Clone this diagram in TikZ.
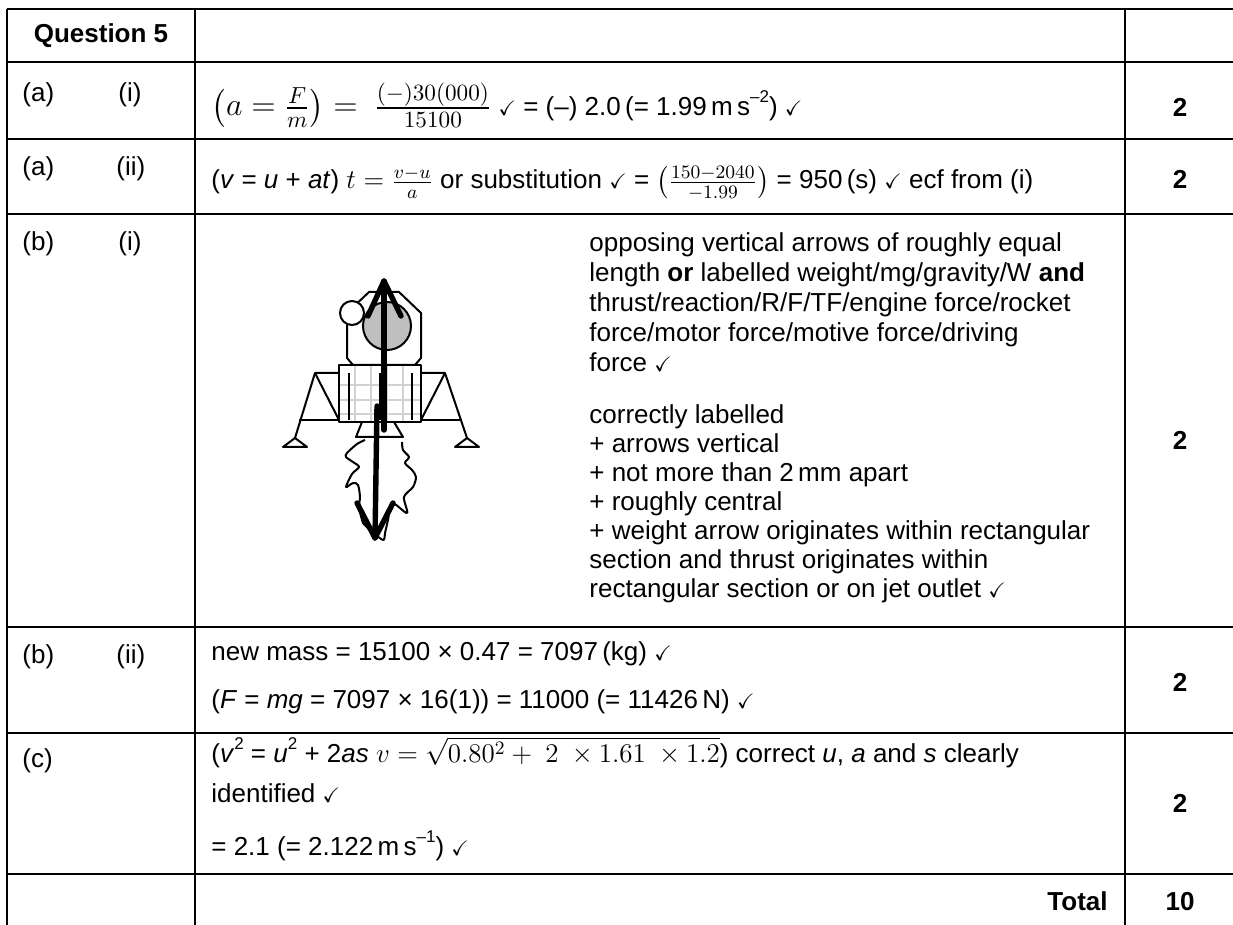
\RequirePackage{fix-cm}
\documentclass[tikz,border=0pt]{standalone}
\usepackage{amsmath,amssymb}
\usepackage{fontspec}
\setmainfont{Liberation Sans}
\DeclareMathSizes{13}{13.5}{9.5}{7.5}
\DeclareMathSizes{14}{16}{11.6}{9}
\newcommand{\chk}{{\fontsize{10.5}{12}\selectfont$\checkmark$}}
\newcommand{\supx}[1]{\raisebox{6.5pt}{\fontsize{8.5}{10}\selectfont #1}}
\newcommand{\bigmath}[1]{{\fontsize{14}{15}\selectfont$#1$}}
\tikzset{
  rule/.style={line width=1pt},
  cell/.style={anchor=base west, inner sep=0pt, font=\fontsize{13}{15}\selectfont},
  pts/.style={anchor=base, inner sep=0pt, font=\fontsize{13}{15}\selectfont\bfseries},
  body/.style={line width=1pt, line join=round},
  gridline/.style={line width=1.2pt, gray!35},
  forcearrow/.style={line width=2.7pt, line cap=round, line join=round}
}
\begin{document}
\begin{tikzpicture}[x=0.5pt,y=-0.5pt]
  \useasboundingbox (0,0) rectangle (1233,925);
  %tabella
  \draw[rule] (7,9) -- (1240,9);
  \foreach \ry in {62,139,214,627,733,874} \draw[rule] (7,\ry) -- (1240,\ry);
  \foreach \cx in {7,195,1125} \draw[rule] (\cx,9) -- (\cx,925);
  %intestazione
  \node[pts] (qhead) at (101,43) {Question 5};
  %etichette
  \node[cell] (pa1) at (22,102) {(a)};
  \node[cell] (pa1i) at (118,102) {(i)};
  \node[cell] (pa2) at (22,176) {(a)};
  \node[cell] (pa2i) at (116,176) {(ii)};
  \node[cell] (pb1) at (22,251) {(b)};
  \node[cell] (pb1i) at (118,251) {(i)};
  \node[cell] (pb2) at (22,663) {(b)};
  \node[cell] (pb2i) at (116,663) {(ii)};
  \node[cell] (pc) at (22,767) {(c)};
  %risposte
  \node[cell] (ansa1) at (211,116) {\bigmath{\left(a = \tfrac{F}{m}\right) = \ \tfrac{(-)30(000)}{15100}} \chk{} = (–) 2.0\,(= 1.99\,m\,s\supx{–2}) \chk};
  \node[cell] (ansa2) at (211,189) {(\textit{v} = \textit{u} + \textit{at}) $t = \tfrac{v-u}{a}$ or substitution \chk{} = $\left(\tfrac{150-2040}{-1.99}\right)$ = 950\,(s) \chk{} ecf from (i)};
  \foreach \t [count=\i from 0] in {opposing vertical arrows of roughly equal,
      length \textbf{or} labelled weight/mg/gravity/W \textbf{and},
      thrust/reaction/R/F/TF/engine force/rocket,
      force/motor force/motive force/driving,
      force \chk}
    \node[cell] (crita\i) at (589,252+30*\i) {\t};
  \foreach \t [count=\i from 0] in {correctly labelled,
      + arrows vertical,
      + not more than 2\,mm apart,
      + roughly central,
      + weight arrow originates within rectangular,
      section and thrust originates within,
      rectangular section or on jet outlet \chk}
    \node[cell] (critb\i) at (589,424+28.9*\i) {\t};
  \node[cell] (ansb2a) at (211,660) {new mass = 15100 × 0.47 = 7097\,(kg) \chk};
  \node[cell] (ansb2b) at (211,708) {(\textit{F} = \textit{mg} = 7097 × 16(1)) = 11000 (= 11426\,N) \chk};
  \node[cell] (ansca) at (211,762) {(\textit{v}\supx{2} = \textit{u}\supx{2} + 2\textit{as} $v = \sqrt{0.80^2 +\ 2\ \times 1.61\ \times 1.2}$) correct \textit{u}, \textit{a} and \textit{s} clearly};
  \node[cell] (anscb) at (211,802) {identified \chk};
  \node[cell] (anscc) at (211,855) {= 2.1 (= 2.122\,m\,s\supx{–1}) \chk};
  %punteggi
  \node[pts] (ma1) at (1180,117) {2};
  \node[pts] (ma2) at (1180,189) {2};
  \node[pts] (mb1) at (1180,450) {2};
  \node[pts] (mb2) at (1180,691) {2};
  \node[pts] (mc) at (1180,812) {2};
  \node[pts,anchor=base east] (tot) at (1108,910) {Total};
  \node[pts] (mtot) at (1180,910) {10};
  %fiamma
  \draw[body, fill=white] plot[smooth, tension=0.5] coordinates {(365,440) (357,444) (347,453) (346,457) (353,462) (359,467) (352,474) (346,487) (353,483) (358,485) (360,497) (359,507) (362,520) (363,523) (370,530) (383,540) (385,533) (388,520) (392,503) (407,513) (404,497) (413,487) (416,477) (412,470) (405,463) (409,457) (403,450) (402,442)};
  %gambe
  \draw[body] (339,373) -- (315,373) -- (295,438);
  \draw[body] (315,373) -- (339,420);
  \draw[body] (421,373) -- (445,373) -- (467,438);
  \draw[body] (445,373) -- (421,420);
  \draw[body] (299,420) -- (462,420);
  \draw[body] (283,447) -- (295,438) -- (307,447) -- cycle;
  \draw[body] (455,447) -- (467,438) -- (479,447) -- cycle;
  %ugello
  \draw[body, fill=white] (362,422) -- (356,437) -- (403,437) -- (394,422);
  %modulo a griglia
  \fill[white] (339,365) rectangle (421,422);
  \foreach \gx in {355,371,387,403} \draw[gridline] (\gx,365) -- (\gx,422);
  \foreach \gy in {385,400,414} \draw[gridline] (339,\gy) -- (421,\gy);
  \draw[body] (339,365) rectangle (421,422);
  \foreach \gx in {349,380,412} \draw[body] (\gx,373) -- (\gx,420);
  %cabina
  \draw[body, fill=white] (369,292) -- (399,292) -- (421,313) -- (421,358) -- (415,365) -- (353,365) -- (347,358) -- (347,313) -- cycle;
  \draw[body, fill=gray!50] (387,326) circle (24);
  \draw[body, fill=white] (352,313) circle (12);
  %frecce
  \coordinate (upbase) at (384,430);
  \coordinate (uptip) at (384,281);
  \coordinate (downbase) at (377,406);
  \coordinate (downtip) at (375,538);
  \draw[forcearrow] (upbase) -- (uptip);
  \draw[forcearrow] (368,316) -- (uptip) -- (401,316);
  \draw[forcearrow] (downbase) -- (downtip);
  \draw[forcearrow] (357,503) -- (downtip) -- (393,503);
\end{tikzpicture}
\end{document}
